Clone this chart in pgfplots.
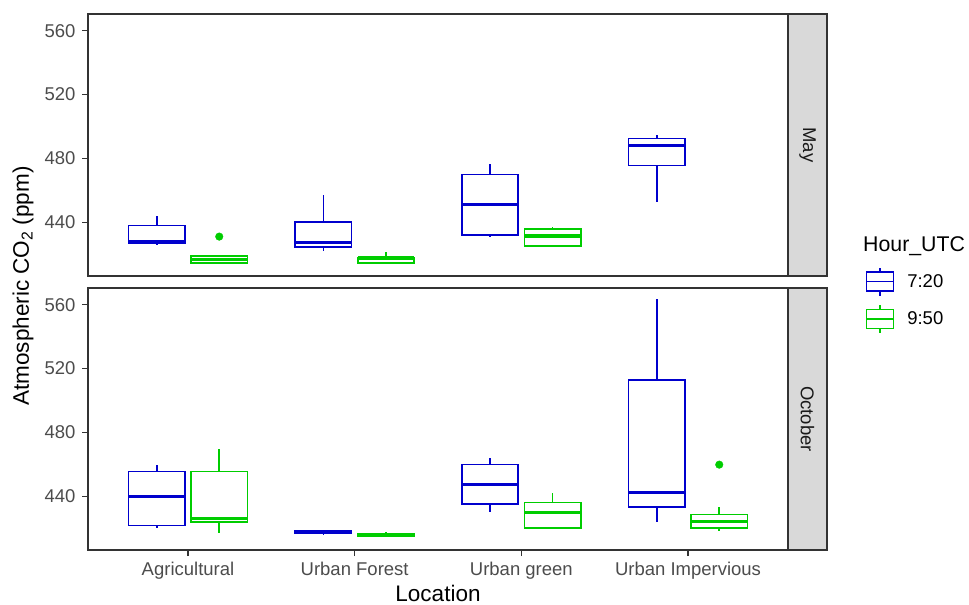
\documentclass[border=0pt]{standalone}
\usepackage{pgfplots}
\pgfplotsset{compat=1.18}
\usepgfplotslibrary{statistics}
\usepackage{fontspec}
\setmainfont{Liberation Sans}

\definecolor{cblue}{RGB}{0,0,205}
\definecolor{cgreen}{RGB}{0,205,0}
\definecolor{g10}{gray}{0.1}
\definecolor{g20}{gray}{0.2}
\definecolor{g30}{gray}{0.3}
\definecolor{g85}{gray}{0.85}

\newcommand{\tickfont}{\fontsize{18.5bp}{22bp}\selectfont}
\newcommand{\titlefont}{\fontsize{22.5bp}{27bp}\selectfont}
\newcommand{\legtitlefont}{\fontsize{21.3bp}{26bp}\selectfont}

\pgfplotsset{
  facet/.style={
    scale only axis, width=700bp, height=262bp,
    xmin=0.4, xmax=4.6, ymin=406.3, ymax=570.5,
    axis line style={g20, line width=1.3bp},
    tick style={g20, line width=1.1bp},
    tick align=outside, major tick length=6bp,
    ytick={440,480,520,560},
    yticklabel style={font=\tickfont, text=g30, xshift=-3bp},
    xticklabel style={font=\tickfont, text=g30, yshift=-3bp},
    /pgf/number format/assume math mode=true,
    /pgf/number format/set thousands separator={},
    ytick pos=left, xtick pos=bottom,
    boxplot/draw direction=y,
    boxplot/box extend=0.3375,
    boxplot/whisker extend=0,
    boxplot/every median/.style={line width=3.2bp},
  },
  boxkey/.style={legend image code/.code={
    \draw[##1] (0bp,-9.5bp) rectangle (27bp,9.5bp);
    \draw[##1] (0bp,0bp) -- (27bp,0bp) (13.5bp,9.5bp) -- (13.5bp,14bp)
      (13.5bp,-9.5bp) -- (13.5bp,-14bp);}},
}
% \bp{colour}{position}{lower whisker}{lower quartile}{median}{upper quartile}{upper whisker}
\newcommand{\bp}[7]{\addplot[#1, line width=1.6bp, forget plot,
  boxplot prepared={draw position=#2, lower whisker=#3, lower quartile=#4,
  median=#5, upper quartile=#6, upper whisker=#7}] coordinates {};}

\begin{document}
\begin{tikzpicture}
\useasboundingbox (0bp,0bp) rectangle (969bp,-605bp);

% ---------------- May ----------------
\begin{axis}[facet, at={(88bp,-276bp)}, anchor=south west, xtick=\empty]
% 7:20
\bp{cblue}{0.8125}{426.4}{426.6}{427.9}{437.9}{444.2}
\bp{cblue}{1.8125}{422.0}{424.5}{427.2}{440.0}{457.2}
\bp{cblue}{2.8125}{430.6}{432.1}{451.3}{469.8}{476.8}
\bp{cblue}{3.8125}{452.6}{475.5}{488.1}{492.5}{494.4}
% 9:50
\bp{cgreen}{1.1875}{414.2}{414.4}{416.5}{419.0}{419.0}
\bp{cgreen}{2.1875}{414.3}{414.4}{417.6}{417.8}{421.6}
\bp{cgreen}{3.1875}{425.1}{425.2}{431.4}{435.8}{436.9}
\addplot[only marks, mark=*, mark size=3.8bp, cgreen, forget plot] coordinates {(1.1875,431.0)};
\end{axis}

% ---------------- October ----------------
\begin{axis}[facet, at={(88bp,-550bp)}, anchor=south west,
  xtick={1,2,3,4},
  xticklabels={Agricultural, Urban Forest, Urban green, Urban Impervious},
  legend style={at={(axis description cs:1.1107,1.082)}, anchor=north west,
    draw=none, fill=none, font=\tickfont, text=black, row sep=8bp,
    inner sep=0pt,
    /tikz/every odd column/.append style={column sep=11bp},
    /tikz/every even column/.append style={column sep=0bp}},
  legend cell align=left]
% 7:20
\bp{cblue}{0.8125}{420.2}{421.7}{439.8}{455.6}{459.8}
\bp{cblue}{1.8125}{416.5}{416.6}{417.4}{418.3}{418.4}
\bp{cblue}{2.8125}{430.0}{435.2}{447.3}{459.8}{464.0}
\bp{cblue}{3.8125}{424.0}{433.1}{442.5}{512.9}{563.6}
% 9:50
\bp{cgreen}{1.1875}{417.1}{424.0}{426.0}{455.6}{469.8}
\bp{cgreen}{2.1875}{414.9}{414.9}{415.7}{416.6}{417.6}
\bp{cgreen}{3.1875}{419.2}{420.2}{429.6}{436.1}{442.1}
\bp{cgreen}{4.1875}{418.1}{420.2}{424.0}{428.6}{433.4}
\addplot[only marks, mark=*, mark size=3.8bp, cgreen, forget plot] coordinates {(4.1875,459.8)};
\addlegendimage{boxkey, cblue, line width=1.6bp}
\addlegendentry{7:20}
\addlegendimage{boxkey, cgreen, line width=1.6bp}
\addlegendentry{9:50}
\end{axis}

% facet strips
\draw[g20, fill=g85, line width=1.3bp] (788bp,-14bp) rectangle (827bp,-276bp);
\node[rotate=-90, font=\tickfont, text=g10] at (807.5bp,-145bp) {May};
\draw[g20, fill=g85, line width=1.3bp] (788bp,-288bp) rectangle (827bp,-550bp);
\node[rotate=-90, font=\tickfont, text=g10] at (807.5bp,-419bp) {October};

% titles
\node[rotate=90, font=\titlefont, text=black] at (23bp,-286bp) {Atmospheric CO\textsubscript{2} (ppm)};
\node[anchor=base, font=\titlefont, text=black, inner sep=0pt] at (438bp,-601.5bp) {Location};
\node[anchor=base west, font=\legtitlefont, text=black, inner sep=0pt] at (863bp,-251bp) {Hour\_UTC};
\end{tikzpicture}
\end{document}
